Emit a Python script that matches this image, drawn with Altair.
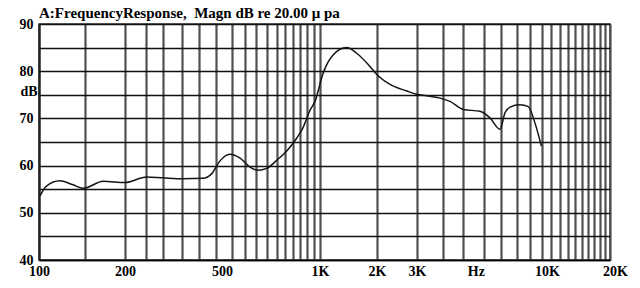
import altair as alt
import pandas as pd

# ---- data ----
freq_hz = [101, 106, 120, 134, 148, 171, 200, 252, 300, 352, 411, 436, 461, 493,
           531, 572, 607, 648, 698, 759, 824, 868, 920, 959, 1041, 1176, 1383,
           1562, 1837, 1995, 2282, 2704, 2990, 3341, 3873, 4328, 5015, 5804,
           6337, 6918, 7228, 7552, 8245, 8868, 9404, 9950]
magn_db = [53.6, 55.5, 56.8, 56.0, 55.2, 56.7, 56.4, 57.6, 57.4, 57.2, 57.3, 58.3,
           61.0, 62.4, 61.6, 59.7, 59.0, 59.4, 61.1, 63.1, 65.8, 68.0, 71.7, 73.6,
           79.7, 83.5, 85.0, 83.8, 81.0, 79.3, 77.2, 75.8, 75.1, 74.8, 74.3, 73.6,
           71.9, 71.5, 70.1, 67.7, 71.2, 72.4, 72.9, 72.5, 69.0, 64.1]

grid_freqs = list(range(100, 1001, 50)) + list(range(2000, 20001, 1000))
label_freqs = [100, 200, 500, 1000, 2000, 3000, 10000, 20000]
label_texts = ["100", "200", "500", "1K", "2K", "3K", "10K", "20K"]
unit_freq = [5600]
unit_text = ["Hz"]
db_ticks = list(range(40, 91, 5))

title_text = "A:FrequencyResponse,\u00a0\u00a0Magn dB re 20.00 \u03bc pa"

FONT = "Liberation Serif"

df = pd.DataFrame({"f": freq_hz, "db": magn_db})
hz_df = pd.DataFrame({"f": unit_freq})

# piecewise log scale reproducing the stretched axis of the original
xscale = alt.Scale(type="log",
                   domain=[100, 150, 200, 300, 400, 500, 700, 1000, 2000, 3000, 5000, 10000, 20000],
                   range=[0, 46, 86, 124, 160, 193, 238, 281, 338, 378, 424, 503, 571],
                   nice=False, zero=False)
yscale = alt.Scale(domain=[40, 90], nice=False, zero=False)

label_expr = " : ".join(
    [f"datum.value == {v} ? '{t}'" for v, t in zip(label_freqs, label_texts)] + ["''"])

line = alt.Chart(df).mark_line(color="#151515", strokeWidth=1.5, interpolate="monotone").encode(
    x=alt.X("f:Q", scale=xscale, title=None,
            axis=alt.Axis(values=grid_freqs, labelExpr=label_expr, orient="bottom", grid=True,
                          gridColor="#505050", gridWidth=2.2, ticks=False,
                          domain=True, domainColor="#000", domainWidth=1.5,
                          labelFont=FONT, labelFontWeight="bold", labelFontSize=14,
                          labelColor="#000", labelPadding=4, labelOverlap=False,
                          labelFlush=False, labelBound=False,
                          labelOffset={"condition": [
                              {"test": "datum.value == 500", "value": -10},
                              {"test": "datum.value >= 10000", "value": 5}],
                              "value": 0})),
    y=alt.Y("db:Q", scale=yscale,
            axis=alt.Axis(values=db_ticks,
                          labelExpr="datum.value % 10 == 0 ? datum.value : ''",
                          grid=True, gridColor="#111", gridWidth=1.4, ticks=False,
                          domain=True, domainColor="#222", domainWidth=2,
                          labelFont=FONT, labelFontWeight="bold", labelFontSize=14,
                          labelColor="#000", labelPadding=6, labelOverlap=False,
                          title="dB", titleAngle=0, titleAlign="right",
                          titleBaseline="middle", titleX=-2, titleY=67,
                          titleFont=FONT, titleFontWeight="bold", titleFontSize=14,
                          titleColor="#000")),
)

hz = alt.Chart(hz_df).mark_point(opacity=0).encode(
    x=alt.X("f:Q", scale=xscale, title=None,
            axis=alt.Axis(values=unit_freq, labelExpr=f"'{unit_text[0]}'", orient="bottom",
                          grid=False, ticks=False, domain=False,
                          labelFont=FONT, labelFontWeight="bold", labelFontSize=14,
                          labelColor="#000", labelPadding=4, labelFlush=False)),
)

chart = alt.layer(line, hz).resolve_axis(x="independent").properties(
    width=571, height=236,
    title=alt.TitleParams(title_text, anchor="start", frame="group", offset=4, dy=20,
                          baseline="alphabetic", font=FONT, fontWeight="bold",
                          fontSize=15, color="#000"),
    autosize=alt.AutoSizeParams(type="none"),
    padding={"left": 39, "top": 24, "right": 30, "bottom": 28},
    background="white",
).configure_view(stroke="#333", strokeWidth=1.5)

chart.save("out.html", embed_options={"renderer": "svg", "actions": False})
